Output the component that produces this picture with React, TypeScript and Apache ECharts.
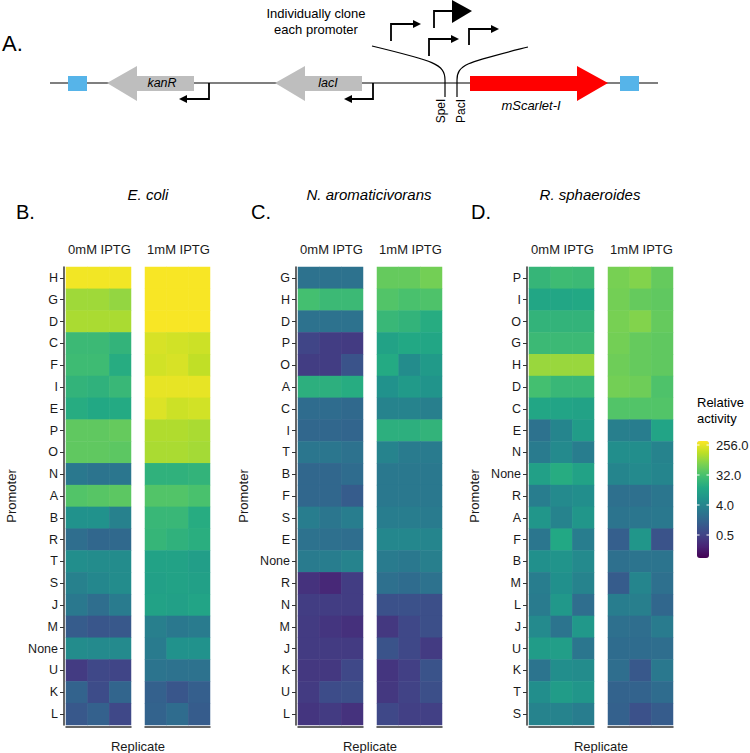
import React, { useEffect, useRef } from 'react';
import * as echarts from 'echarts';

// ---------- DATA (log2 relative activity) ----------
const replicates = ['1', '2', '3'];
const conditions = ['0mM IPTG', '1mM IPTG'];
const species = ['E. coli', 'N. aromaticivorans', 'R. sphaeroides'];
const panelLetters = ['B.', 'C.', 'D.'];
const legendTicks = [256, 32, 4, 0.5];
const legendRange = [-3.3, 8.4]; // log2

const ecoliPromoters = ['H', 'G', 'D', 'C', 'F', 'I', 'E', 'P', 'O', 'N', 'A', 'B', 'R', 'T', 'S', 'J', 'M', 'None', 'U', 'K', 'L'];
const ecoli0mM = [
  [8.2, 8.2, 8.2], [6.7, 6.7, 6.5], [6.9, 6.9, 6.9], [4.6, 4.6, 4.3], [4.7, 4.7, 3.9],
  [4.3, 4.2, 4.5], [3.9, 3.7, 3.8], [5.5, 5.5, 5.6], [5.5, 5.5, 5.4], [1.4, 1.2, 1.3],
  [5.2, 5.3, 5.4], [2.6, 2.6, 1.8], [0.9, 0.6, 0.7], [2.4, 2.3, 2.3], [1.8, 2.1, 2.3],
  [1.4, 0.9, 1.5], [0.1, -0.2, -0.1], [2.3, 2.2, 2.2], [-1.3, -0.8, -0.9], [0.4, -0.6, 0.5],
  [-0.1, 0.3, -0.8],
];
const ecoli1mM = [
  [8.3, 8.3, 8.3], [8.3, 8.3, 8.3], [8.3, 8.3, 8.3], [7.7, 7.6, 7.5], [7.6, 7.7, 7.3],
  [8.0, 8.0, 8.0], [7.8, 7.5, 7.6], [7.0, 7.0, 6.9], [6.9, 6.9, 6.8], [4.2, 4.2, 4.3],
  [5.2, 5.2, 5.0], [4.5, 4.5, 3.9], [4.4, 4.2, 4.0], [3.4, 3.4, 3.2], [3.3, 3.4, 3.3],
  [3.4, 3.3, 3.5], [1.7, 1.4, 1.5], [1.5, 2.6, 2.6], [1.2, 1.1, 1.1], [0.3, -0.2, 0.2],
  [0.4, 0.8, 0.1],
];

const novoPromoters = ['G', 'H', 'D', 'P', 'O', 'A', 'C', 'I', 'T', 'B', 'F', 'S', 'E', 'None', 'R', 'N', 'M', 'J', 'K', 'U', 'L'];
const novo0mM = [
  [1.1, 1.1, 1.1], [4.9, 4.6, 4.6], [1.1, 1.1, 1.1], [-0.9, -1.2, -1.3], [-1.2, -1.2, -0.3],
  [4.1, 4.1, 3.9], [0.8, 0.8, 0.7], [0.6, 0.6, 0.5], [1.3, 1.3, 1.1], [0.6, 0.6, 0.8],
  [0.6, 0.6, 0.1], [1.6, 1.3, 1.6], [1.1, 1.0, 0.9], [1.5, 1.6, 1.9], [-1.6, -2.0, -1.2],
  [-1.2, -1.2, -1.2], [-1.3, -1.5, -1.7], [-1.3, -1.3, -1.3], [-1.4, -1.4, -0.8], [-1.3, -0.6, -0.5],
  [-1.5, -1.3, -1.6],
];
const novo1mM = [
  [5.6, 5.6, 5.9], [5.2, 5.0, 5.1], [4.5, 4.3, 3.9], [3.4, 3.7, 3.6], [3.8, 2.3, 3.0],
  [2.6, 3.0, 2.7], [1.9, 1.9, 1.7], [4.1, 4.1, 4.3], [1.9, 1.5, 1.5], [1.4, 1.4, 1.4],
  [1.4, 1.4, 1.4], [1.6, 1.6, 1.5], [2.1, 2.1, 2.0], [1.5, 1.4, 1.7], [1.0, 0.8, 1.1],
  [-0.4, -0.4, -0.5], [-1.4, -0.8, -0.5], [-0.3, -0.8, -1.3], [-1.5, -1.1, -0.3], [-1.4, -1.0, -0.5],
  [-0.8, -1.1, -1.1],
];

const rsphPromoters = ['P', 'I', 'O', 'G', 'H', 'D', 'C', 'E', 'N', 'None', 'R', 'A', 'F', 'B', 'M', 'L', 'J', 'U', 'K', 'T', 'S'];
const rsph0mM = [
  [4.4, 4.7, 4.6], [3.6, 3.6, 3.7], [4.3, 4.3, 4.3], [4.6, 4.6, 4.6], [6.6, 6.6, 6.6],
  [4.9, 4.5, 4.5], [3.6, 3.5, 3.4], [1.1, 2.0, 3.1], [1.5, 2.2, 1.6], [3.3, 3.9, 3.4],
  [1.6, 2.2, 2.4], [2.8, 1.9, 2.8], [1.3, 3.7, 1.6], [2.5, 2.7, 2.2], [1.6, 2.5, 1.9],
  [1.5, 2.9, 0.9], [2.2, 1.2, 2.9], [3.1, 3.2, 1.3], [1.2, 2.4, 2.3], [2.4, 3.1, 2.8],
  [1.9, 1.9, 1.6],
];
const rsph1mM = [
  [6.0, 6.2, 5.6], [5.9, 5.6, 5.5], [6.0, 6.2, 5.6], [5.9, 5.6, 5.5], [5.8, 5.6, 5.5],
  [5.9, 5.8, 5.1], [5.2, 5.2, 5.2], [1.7, 1.6, 3.5], [2.4, 2.4, 1.9], [2.0, 2.2, 2.0],
  [1.0, 1.0, 1.3], [1.2, 1.3, 1.4], [0.2, 2.8, -0.3], [1.0, 1.2, 1.2], [0.1, 2.0, 1.0],
  [1.6, 1.7, 0.6], [1.0, 0.9, 1.5], [0.8, 0.8, 0.9], [0.9, -0.1, 1.4], [0.4, 0.4, 0.8],
  [0.3, -0.4, 0.1],
];

const panelPromoters = [ecoliPromoters, novoPromoters, rsphPromoters];
const panelValues = [[ecoli0mM, ecoli1mM], [novo0mM, novo1mM], [rsph0mM, rsph1mM]];

// ---------- STYLE / LAYOUT ----------
const viridis = ['#440154', '#482475', '#414487', '#355f8d', '#2a788e', '#21918c', '#22a884', '#44bf70', '#7ad151', '#bddf26', '#fde725'];
const FONT = 'Liberation Sans, Arial, sans-serif';
const gridTop = 267;
const gridHeight = 458;
const facetWidth = 65;
const facetStep = 79;
const panelLefts = [66, 298, 529];
const titleCenters = [148, 369, 590];
const letterLefts = [16, 251, 471];
const legendBox = { left: 697, top: 441, width: 12, height: 117 };

function txt(text: string, x: number, y: number, opts: any = {}) {
  const align = opts.align || 'left';
  const valign = opts.valign || 'middle';
  return {
    type: 'text',
    x,
    y,
    rotation: opts.rotation || 0,
    silent: true,
    style: {
      text,
      fill: opts.fill || '#000',
      fontSize: opts.fontSize || 13,
      fontFamily: FONT,
      fontStyle: opts.italic ? 'italic' : 'normal',
      align,
      verticalAlign: valign,
      textAlign: align,
      textVerticalAlign: valign,
      lineHeight: opts.lineHeight,
    },
  };
}

function poly(points: number[][], fill: string) {
  return { type: 'polygon', silent: true, shape: { points }, style: { fill, stroke: 'none' } };
}
function pline(points: number[][], lw = 1.8) {
  return { type: 'polyline', silent: true, shape: { points }, style: { stroke: '#000', lineWidth: lw, fill: 'none' } };
}

function buildDiagram(): any[] {
  const y = 83;
  const els: any[] = [];
  els.push(txt('A.', 2, 43, { fontSize: 22 }));
  els.push(txt('Individually clone\neach promoter', 316, 21, { align: 'center', fontSize: 13, lineHeight: 16 }));
  // backbone
  els.push({ type: 'line', silent: true, shape: { x1: 50, y1: y, x2: 658, y2: y }, style: { stroke: '#000', lineWidth: 1.2 } });
  // blue boxes
  els.push({ type: 'rect', silent: true, shape: { x: 68, y: 76, width: 19, height: 15 }, style: { fill: '#56b4e9' } });
  els.push({ type: 'rect', silent: true, shape: { x: 620, y: 76, width: 19, height: 15 }, style: { fill: '#56b4e9' } });
  // kanR arrow
  els.push(poly([[107, y], [137, 66], [137, 76], [194, 76], [194, 91], [137, 91], [137, 101]], '#bebebe'));
  els.push(txt('kanR', 162, y, { align: 'center', italic: true, fontSize: 12.5 }));
  // lacI arrow
  els.push(poly([[275, y], [305, 66], [305, 76], [362, 76], [362, 91], [305, 91], [305, 101]], '#bebebe'));
  els.push(txt('lacI', 328, y, { align: 'center', italic: true, fontSize: 12.5 }));
  // reverse promoters
  els.push(pline([[209, y], [209, 99], [186, 99]]));
  els.push(poly([[179, 99], [187, 95], [187, 103]], '#000'));
  els.push(pline([[373, y], [373, 99], [351, 99]]));
  els.push(poly([[344, 99], [352, 95], [352, 103]], '#000'));
  // mScarlet-I arrow
  els.push(poly([[470, 76], [577, 76], [577, 66], [608, y], [577, 101], [577, 91], [470, 91]], '#ff0000'));
  els.push(txt('mScarlet-I', 531, 105, { align: 'center', italic: true, fontSize: 13 }));
  // insertion curves
  els.push({ type: 'bezierCurve', silent: true, shape: { x1: 372, y1: 46, cpx1: 434, cpy1: 61, cpx2: 445, cpy2: 64, x2: 445, y2: 80 }, style: { stroke: '#000', lineWidth: 1.2, fill: 'none' } });
  els.push({ type: 'line', silent: true, shape: { x1: 445, y1: 80, x2: 445, y2: 97 }, style: { stroke: '#000', lineWidth: 1.2 } });
  els.push({ type: 'bezierCurve', silent: true, shape: { x1: 528, y1: 47, cpx1: 468, cpy1: 62, cpx2: 457, cpy2: 64, x2: 457, y2: 80 }, style: { stroke: '#000', lineWidth: 1.2, fill: 'none' } });
  els.push({ type: 'line', silent: true, shape: { x1: 457, y1: 80, x2: 457, y2: 97 }, style: { stroke: '#000', lineWidth: 1.2 } });
  els.push(txt('SpeI', 441, 111, { align: 'center', rotation: Math.PI / 2, fontSize: 12 }));
  els.push(txt('PacI', 461, 111, { align: 'center', rotation: Math.PI / 2, fontSize: 12 }));
  // forward promoters
  els.push(pline([[391, 41], [391, 24], [414, 24]]));
  els.push(poly([[421, 24], [413, 20], [413, 28]], '#000'));
  els.push(pline([[434, 28], [434, 11], [453, 11]]));
  els.push(poly([[472, 11], [452, 0], [452, 23]], '#000'));
  els.push(pline([[429, 56], [429, 39], [452, 39]]));
  els.push(poly([[459, 39], [451, 35], [451, 43]], '#000'));
  els.push(pline([[469, 45], [469, 29], [492, 29]]));
  els.push(poly([[499, 29], [491, 25], [491, 33]], '#000'));
  return els;
}

function legendY(v: number) {
  const [lo, hi] = legendRange;
  return legendBox.top + ((hi - Math.log2(v)) / (hi - lo)) * legendBox.height;
}

export default function App() {
  const ref = useRef<HTMLDivElement>(null);
  useEffect(() => {
    document.body.style.margin = '0';
    const chart = echarts.init(ref.current!, null, { renderer: 'svg' });

    const grids: any[] = [];
    const xAxes: any[] = [];
    const yAxes: any[] = [];
    const series: any[] = [];
    const graphics: any[] = buildDiagram();
    const axisColor = '#333';

    panelPromoters.forEach((proms, p) => {
      graphics.push(txt(panelLetters[p], letterLefts[p], 212, { fontSize: 20 }));
      graphics.push(txt(species[p], titleCenters[p], 194, { align: 'center', italic: true, fontSize: 15 }));
      graphics.push(txt('Replicate', panelLefts[p] + 72, 746, { align: 'center', fontSize: 13, fill: '#1a1a1a' }));
      conditions.forEach((cond, c) => {
        const idx = p * 2 + c;
        const left = panelLefts[p] + c * facetStep;
        grids.push({ left, top: gridTop, width: facetWidth, height: gridHeight });
        graphics.push(txt(cond, left + facetWidth / 2 + 1, 249, { align: 'center', fontSize: 13, fill: '#1a1a1a' }));
        xAxes.push({
          type: 'category', gridIndex: idx, data: replicates, offset: 2,
          axisLine: { show: true, lineStyle: { color: axisColor, width: 1.5 } },
          axisTick: { show: false }, axisLabel: { show: false }, splitLine: { show: false },
        });
        yAxes.push({
          type: 'category', gridIndex: idx, data: proms, inverse: true, offset: 2,
          show: c === 0,
          axisLine: { show: true, lineStyle: { color: axisColor, width: 1.5 } },
          axisTick: { show: true, length: 4, alignWithLabel: true, lineStyle: { color: axisColor, width: 1 } },
          axisLabel: { fontSize: 12.5, color: '#1a1a1a', fontFamily: FONT, margin: 6 },
          name: c === 0 ? 'Promoter' : '', nameLocation: 'middle', nameRotate: 90, nameGap: 46,
          nameTextStyle: { fontSize: 13, color: '#1a1a1a', fontFamily: FONT },
          splitLine: { show: false },
        });
        const vals = panelValues[p][c];
        const data: number[][] = [];
        vals.forEach((row, i) => row.forEach((v, j) => data.push([j, i, v])));
        series.push({
          type: 'heatmap', xAxisIndex: idx, yAxisIndex: idx, data,
          itemStyle: { borderWidth: 0 }, emphasis: { disabled: true }, silent: true,
        });
      });
    });

    // legend
    graphics.push(txt('Relative', legendBox.left, 402, { fontSize: 13 }));
    graphics.push(txt('activity', legendBox.left, 418, { fontSize: 13 }));
    legendTicks.forEach((t) => {
      const y = legendY(t);
      graphics.push(txt(t.toFixed(1), legendBox.left + 19, y, { fontSize: 13, fill: '#1a1a1a' }));
      graphics.push({ type: 'line', silent: true, z: 100, shape: { x1: legendBox.left, y1: y, x2: legendBox.left + 2.5, y2: y }, style: { stroke: '#fff', lineWidth: 1 } });
      graphics.push({ type: 'line', silent: true, z: 100, shape: { x1: legendBox.left + legendBox.width - 2.5, y1: y, x2: legendBox.left + legendBox.width, y2: y }, style: { stroke: '#fff', lineWidth: 1 } });
    });

    chart.setOption({
      animation: false,
      backgroundColor: '#fff',
      textStyle: { fontFamily: FONT },
      grid: grids,
      xAxis: xAxes,
      yAxis: yAxes,
      visualMap: {
        type: 'continuous', min: legendRange[0], max: legendRange[1], dimension: 2,
        seriesIndex: series.map((_, i) => i),
        left: legendBox.left, top: legendBox.top, itemWidth: legendBox.width, itemHeight: legendBox.height,
        padding: 0, calculable: false, hoverLink: false, realtime: false, text: ['', ''],
        inRange: { color: viridis }, show: true,
      },
      series,
      graphic: { elements: graphics },
    });
    return () => chart.dispose();
  }, []);
  return <div ref={ref} style={{ width: 750, height: 753 }} />;
}
